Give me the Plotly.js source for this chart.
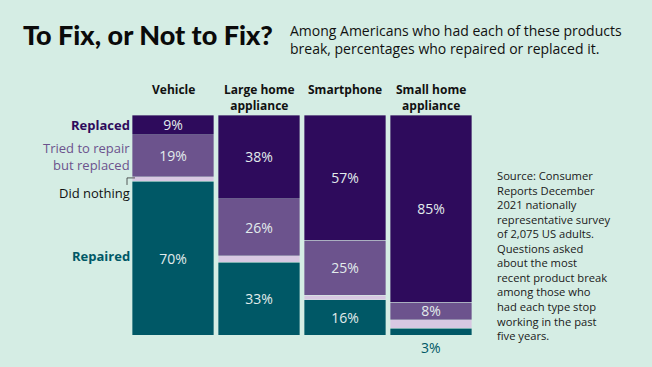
<!DOCTYPE html>
<html><head><meta charset="utf-8">
<script src="https://cdn.plot.ly/plotly-3.0.1.min.js"></script>
<style>html,body{margin:0;padding:0;background:#d5ede4;}</style>
</head><body>
<div id="chart" style="width:652px;height:367px;"></div>
<script>
const categories = ["Vehicle", "Large home<br>appliance", "Smartphone", "Small home<br>appliance"];
const repaired = [70, 33, 16, 3];
const didNothing = [2, 3, 2, 4];
const triedReplaced = [19, 26, 25, 8];
const replaced = [9, 38, 57, 85];
const seriesNames = ["Repaired", "Did nothing", "Tried to repair<br>but replaced", "Replaced"];

const bg = "#d5ede4";
const colors = {rep: "#005866", none: "#d8c8e2", tried: "#6c538d", repl: "#2e0b5c"};
const font = "'Open Sans', sans-serif";
const titleFont = "Lato, sans-serif";
const pct = v => v + "%";

function barTrace(name, vals, color, showText) {
  return {
    type: "bar", name: name, x: categories, y: vals,
    marker: {color: color, line: {color: "rgba(213,237,228,0.6)", width: 0.6}},
    text: vals.map(v => (showText && v >= 5) ? pct(v) : ""),
    textposition: "inside", insidetextanchor: "middle",
    textfont: {family: font, size: 14, color: "#e2ecec"},
    hoverinfo: "skip", cliponaxis: false
  };
}

const data = [
  barTrace(seriesNames[0], repaired, colors.rep, true),
  barTrace(seriesNames[1], didNothing, colors.none, false),
  barTrace(seriesNames[2], triedReplaced, colors.tried, true),
  barTrace(seriesNames[3], replaced, colors.repl, true)
];

const annotations = [];
categories.forEach((c, i) => annotations.push({
  x: c, y: 1.165, xref: "x", yref: "paper", yanchor: "top",
  text: "<b>" + c + "</b>", showarrow: false,
  font: {family: font, size: 12, color: "#111"}, align: "center"
}));
repaired.forEach((v, i) => {
  if (v < 5) annotations.push({
    x: categories[i], y: 0, xref: "x", yref: "y", yanchor: "top", yshift: -1,
    text: pct(v), showarrow: false, font: {family: font, size: 14, color: "#005866"}
  });
});
annotations.push(
  {xref: "paper", yref: "y", x: 0.005, y: 95.5, xanchor: "right", showarrow: false,
   text: "<b>" + seriesNames[3] + "</b>", font: {family: font, size: 13, color: colors.repl}},
  {xref: "paper", yref: "y", x: 0.005, y: 81, xanchor: "right", align: "right", showarrow: false,
   text: seriesNames[2], font: {family: font, size: 13, color: colors.tried}},
  {xref: "paper", yref: "y", x: 0.005, y: 64.5, xanchor: "right", showarrow: false,
   text: seriesNames[1], font: {family: font, size: 13, color: "#111"}},
  {xref: "paper", yref: "y", x: 0.005, y: 35.8, xanchor: "right", showarrow: false,
   text: "<b>" + seriesNames[0] + "</b>", font: {family: font, size: 13, color: colors.rep}},
  {xref: "paper", yref: "paper", x: -0.318, y: 1.365, xanchor: "left", yanchor: "middle", showarrow: false,
   text: "To Fix, or Not to Fix?", font: {family: titleFont, size: 27, weight: 900, color: "#0a0a0a"}},
  {xref: "paper", yref: "paper", x: 0.46, y: 1.345, xanchor: "left", yanchor: "middle", align: "left", showarrow: false,
   text: "Among Americans who had each of these products<br>break, percentages who repaired or replaced it.",
   font: {family: font, size: 14, color: "#111"}},
  {xref: "paper", yref: "paper", x: 1.06, y: 0.77, xanchor: "left", yanchor: "top", align: "left", showarrow: false,
   text: "Source: Consumer<br>Reports December<br>2021 nationally<br>representative survey<br>of 2,075 US adults.<br>Questions asked<br>about the most<br>recent product break<br>among those who<br>had each type stop<br>working in the past<br>five years.",
   font: {family: font, size: 11.2, color: "#1a1a1a"}}
);

const layout = {
  width: 652, height: 367,
  margin: {l: 130, r: 178, t: 115, b: 32},
  paper_bgcolor: bg, plot_bgcolor: bg,
  barmode: "stack", bargap: 0.058,
  showlegend: false,
  uniformtext: {mode: "show", minsize: 14},
  xaxis: {type: "category", visible: false, fixedrange: true},
  yaxis: {range: [0, 100], visible: false, fixedrange: true},
  annotations: annotations,
  shapes: [
    {type: "path", xref: "paper", yref: "y", path: "M -0.0087 68.2 L -0.0087 71.4 L 0.0145 71.4",
     line: {color: "#333", width: 0.8}}
  ],
  font: {family: font}
};

Plotly.newPlot("chart", data, layout, {displayModeBar: false, staticPlot: true});
</script>
</body></html>
